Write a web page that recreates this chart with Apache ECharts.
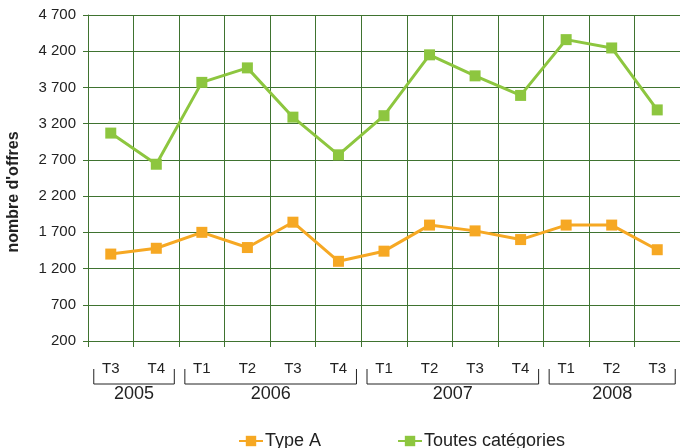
<!DOCTYPE html>
<html>
<head>
<meta charset="utf-8">
<script src="https://cdn.jsdelivr.net/npm/echarts@6/dist/echarts.min.js"></script>
<style>
html,body{margin:0;padding:0;background:#fff;}
#c{width:680px;height:448px;}
</style>
</head>
<body>
<div id="c"></div>
<script>
var quarters = ['T3','T4','T1','T2','T3','T4','T1','T2','T3','T4','T1','T2','T3'];
var years = ['2005','2006','2007','2008'];
var yearCounts = [2,4,4,3];
var typeA = [1400,1480,1700,1490,1840,1300,1440,1800,1720,1600,1800,1800,1460];
var toutes = [3070,2640,3770,3970,3290,2770,3310,4150,3860,3590,4360,4245,3390];
var yTicks = {min:200, max:4700, interval:500};
var seriesNames = ['Type A','Toutes catégories'];

(function(){
var FONT = "'Liberation Sans', Arial, sans-serif";
var GRID = '#3f7330';
var GREEN = '#8dc63f';
var ORANGE = '#f6a823';

var chart = echarts.init(document.getElementById('c'), null, {renderer:'canvas'});
function fmt(v){ return String(v).replace(/\B(?=(\d{3})+(?!\d))/g,' '); }

chart.setOption({
  animation:false,
  backgroundColor:'#fff',
  grid:{left:88, top:15, width:598, bottom:107, containLabel:false},
  legend:{
    left:233, top:427, itemGap:76, itemWidth:24, itemHeight:13,
    textStyle:{fontFamily:FONT, fontSize:18, color:'#222', padding:[0,0,0,-3]},
    data:seriesNames
  },
  xAxis:{
    type:'category', data:quarters, boundaryGap:true,
    axisLine:{show:true, lineStyle:{color:GRID, width:1}},
    axisTick:{show:true, length:6, lineStyle:{color:GRID}},
    axisLabel:{fontFamily:FONT, fontSize:15, color:'#222', margin:20, interval:0},
    splitLine:{show:true, interval:0, lineStyle:{color:GRID, width:1}}
  },
  yAxis:{
    type:'value', min:yTicks.min, max:yTicks.max, interval:yTicks.interval,
    axisLine:{show:true, lineStyle:{color:GRID}},
    axisTick:{show:true, length:5, lineStyle:{color:GRID}},
    axisLabel:{fontFamily:FONT, fontSize:15, color:'#222', margin:12, formatter:fmt},
    splitLine:{show:true, lineStyle:{color:GRID, width:1}}
  },
  series:[
    {name:seriesNames[0], type:'line', data:typeA, symbol:'rect', symbolSize:11,
     lineStyle:{color:ORANGE, width:3}, itemStyle:{color:ORANGE}, z:3},
    {name:seriesNames[1], type:'line', data:toutes, symbol:'rect', symbolSize:11,
     lineStyle:{color:GREEN, width:3}, itemStyle:{color:GREEN}, z:3}
  ]
});

// brackets and year labels positioned through the axis scales
var axisY = chart.convertToPixel({yAxisIndex:0}, yTicks.min);
var elements = [];
var startIdx = 0;
for (var i = 0; i < years.length; i++) {
  var endIdx = startIdx + yearCounts[i] - 1;
  var x0 = chart.convertToPixel({xAxisIndex:0}, startIdx) - 17;
  var x1 = chart.convertToPixel({xAxisIndex:0}, endIdx) + 18;
  var yTop = axisY + 28, yBot = axisY + 43;
  elements.push({
    type:'polyline', silent:true,
    shape:{points:[[x0, yTop],[x0, yBot],[x1, yBot],[x1, yTop]]},
    style:{stroke:'#222', lineWidth:1, fill:'none'}
  });
  elements.push({
    type:'text', silent:true,
    x:(x0 + x1)/2, y:axisY + 53,
    style:{text:years[i], font:'18px ' + FONT, fill:'#222', align:'center', verticalAlign:'middle'}
  });
  startIdx = endIdx + 1;
}
elements.push({
  type:'text', silent:true, x:14, y:192, rotation:Math.PI/2,
  style:{text:"nombre d'offres", font:'bold 16px ' + FONT, fill:'#222', align:'center', verticalAlign:'middle'}
});
chart.setOption({graphic:{elements:elements}});
})();
</script>
</body>
</html>
